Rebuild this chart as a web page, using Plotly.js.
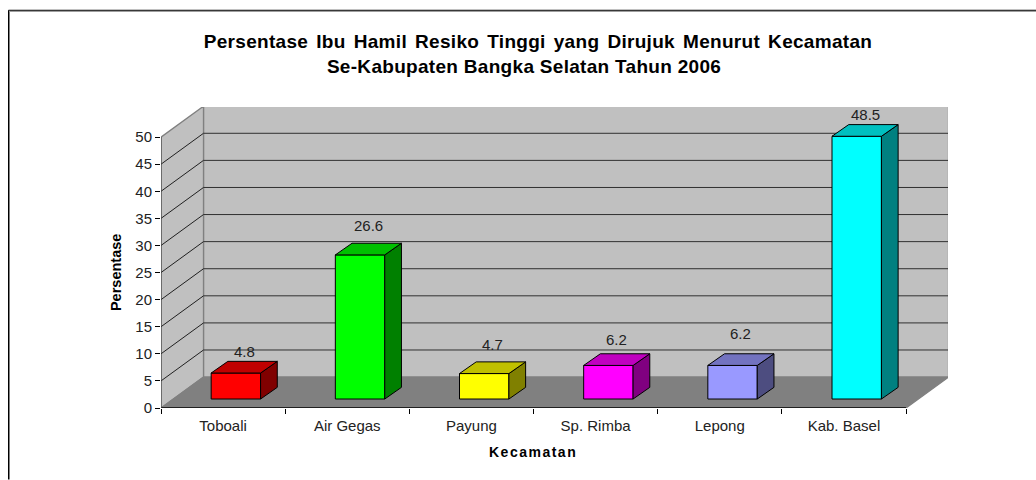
<!DOCTYPE html>
<html><head><meta charset="utf-8">
<script src="https://cdn.plot.ly/plotly-3.0.1.min.js"></script>
<style>html,body{margin:0;padding:0;background:#fff}</style></head>
<body><div id="chart" style="width:1036px;height:480px"></div>
<script>
const categories = ['Toboali','Air Gegas','Payung','Sp. Rimba','Lepong','Kab. Basel'];
const values = [4.8,26.6,4.7,6.2,6.2,48.5];
const frontColors = ['#ff0000','#00ff00','#ffff00','#ff00ff','#9999ff','#00ffff'];
const topColors = ['#c00000','#00c000','#c0c000','#c000c0','#7373c0','#00c0c0'];
const sideColors = ['#800000','#008000','#808000','#800080','#4d4d80','#008080'];
const labelGapPx = [10,18,17,14,20,10];
const yTicks = [0,5,10,15,20,25,30,35,40,45,50];

const W=1036,H=480, L=161,R=948,T=106.5,B=408.3;
const pxPerCat=124.17, pxPerUnit=5.432;
const xMax=(R-L)/pxPerCat, yMax=(B-T)/pxPerUnit;
const wallDX=42.5/pxPerCat, wallDY=31/pxPerUnit;
const barW=0.398, barShift=0.103, barBase=9/pxPerUnit;
const depthDX=16.7/pxPerCat, depthDY=11.7/pxPerUnit;
const N=categories.length;
const centers=categories.map((_,i)=>i+0.5+barShift);
const px=v=>(v-L)/(R-L), py=v=>(B-v)/(B-T);

const poly=(pts,fill,line)=>({type:'path',xref:'x',yref:'y',layer:'below',
  path:'M'+pts.map(p=>p.join(',')).join('L')+'Z',fillcolor:fill,line:line||{width:0}});
const seg=(x0,y0,x1,y1,color,w)=>({type:'line',xref:'x',yref:'y',layer:'below',x0,y0,x1,y1,line:{color:color,width:w||1}});
const frameSeg=(x0,y0,x1,y1,color)=>({type:'line',xref:'paper',yref:'paper',layer:'below',x0:px(x0),y0:py(y0),x1:px(x1),y1:py(y1),line:{color:color,width:1}});
const wallLine={color:'#808080',width:1.3};
const shapes=[
  poly([[wallDX,wallDY],[N+wallDX,wallDY],[N+wallDX,50+wallDY],[wallDX,50+wallDY]],'#c0c0c0',wallLine),
  poly([[0,0],[wallDX,wallDY],[wallDX,50+wallDY],[0,50]],'#c0c0c0',wallLine),
  poly([[0,0],[N,0],[N+wallDX,wallDY],[wallDX,wallDY]],'#808080',wallLine),
];
yTicks.slice(1).forEach(v=>{
  if(v<50) shapes.push(seg(wallDX,v+wallDY,N+wallDX,v+wallDY,'#303030'));
  if(v<50) shapes.push(seg(0,v,wallDX,v+wallDY,'#202020'));
});
shapes.push(frameSeg(9.5,10.5,1036,10.5,'#808080'),frameSeg(9.5,10.5,9.5,480,'#808080'),
            frameSeg(8.5,9.5,1036,9.5,'#000'),frameSeg(8.5,9.5,8.5,480,'#000'));

const traces=[];
traces.push({type:'scatter',mode:'lines',x:[0,N],y:[0,0],line:{color:'#000',width:1.5},cliponaxis:false,hoverinfo:'skip',showlegend:false});
traces.push({type:'scatter',mode:'lines',x:[0,0],y:[0,50],line:{color:'#404040',width:1},cliponaxis:false,hoverinfo:'skip',showlegend:false});
categories.forEach((c,i)=>{
  const x0=centers[i]-barW/2,x1=centers[i]+barW/2,y0=barBase,y1=barBase+values[i];
  traces.push({type:'scatter',mode:'lines',fill:'toself',fillcolor:sideColors[i],line:{color:'#000',width:1},
    x:[x1,x1+depthDX,x1+depthDX,x1,x1],y:[y0,y0+depthDY,y1+depthDY,y1,y0],hoverinfo:'skip',showlegend:false});
  traces.push({type:'scatter',mode:'lines',fill:'toself',fillcolor:topColors[i],line:{color:'#000',width:1},
    x:[x0,x1,x1+depthDX,x0+depthDX,x0],y:[y1,y1,y1+depthDY,y1+depthDY,y1],hoverinfo:'skip',showlegend:false});
});
traces.push({type:'bar',x:centers,y:values,base:barBase,width:barW,
  marker:{color:frontColors,line:{color:'#000',width:1}},showlegend:false,name:'Persentase'});

const annotations=categories.map((c,i)=>({
  xref:'x',yref:'y',x:centers[i]+depthDX/2,y:barBase+values[i]+depthDY,text:String(values[i]),
  showarrow:false,yanchor:'middle',yshift:labelGapPx[i],font:{size:15,color:'#222'}}));
annotations.push({xref:'paper',yref:'paper',x:px(116),y:py(273),text:'<b>Persentase</b>',textangle:-90,showarrow:false,
  xanchor:'center',yanchor:'middle',font:{size:14.5,color:'#000'}});
annotations.push({xref:'paper',yref:'paper',x:px(533),y:py(452),text:'<b><span style="letter-spacing:1.5px">Kecamatan</span></b>',showarrow:false,
  xanchor:'center',yanchor:'middle',font:{size:14,color:'#000'}});

const layout={
  width:W,height:H,autosize:false,margin:{l:L,r:W-R,t:T,b:H-B,pad:0},
  paper_bgcolor:'#fff',plot_bgcolor:'rgba(0,0,0,0)',showlegend:false,
  font:{family:'"Liberation Sans",Arial,sans-serif',size:15,color:'#222'},
  title:{text:'<b><span style="letter-spacing:0.3px;word-spacing:2.5px">Persentase Ibu Hamil Resiko Tinggi yang Dirujuk Menurut Kecamatan</span><br><span style="letter-spacing:0.3px">Se-Kabupaten Bangka Selatan Tahun 2006\u00a0\u00a0\u00a0\u00a0\u00a0</span></b>',
    font:{size:19,color:'#000'},x:538/W,xanchor:'center',y:1-48/H,yanchor:'middle'},
  xaxis:{range:[0,xMax],tickmode:'array',tickvals:categories.map((_,i)=>i+0.5),ticktext:categories,
    ticks:'',showgrid:false,zeroline:false,showline:false,fixedrange:true,ticklabelstandoff:7,
    minor:{tickmode:'array',tickvals:[0,1,2,3,4,5,6],ticks:'outside',ticklen:5,tickcolor:'#000',tickwidth:1,showgrid:false}},
  yaxis:{range:[0,yMax],tickmode:'array',tickvals:yTicks,ticks:'outside',ticklen:5,tickcolor:'#000',
    showgrid:false,zeroline:false,showline:false,fixedrange:true},
  bargap:0,shapes,annotations};
Plotly.newPlot('chart',traces,layout,{displayModeBar:false,staticPlot:true});
</script></body></html>
